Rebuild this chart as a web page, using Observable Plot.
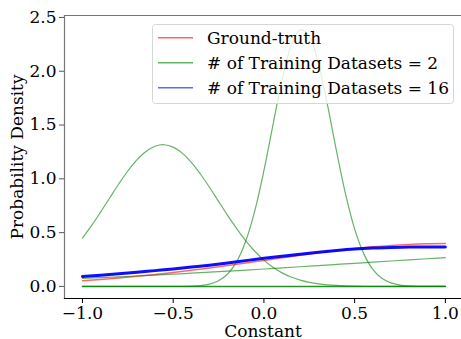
<!DOCTYPE html>
<html>
<head>
<meta charset="utf-8">
<script src="https://cdn.jsdelivr.net/npm/d3@7"></script>
<script src="https://cdn.jsdelivr.net/npm/@observablehq/plot@0.6"></script>
<style>
  html, body { margin: 0; padding: 0; background: #fff; }
  #wrap { position: relative; width: 461px; height: 339px; }
  #legend { position: absolute; left: 151px; top: 23px; }
</style>
</head>
<body>
<div id="wrap">
  <div id="chart"></div>
  <div id="legend"></div>
</div>
<script>
// ---- data ----
const xCoarse = [-1,-0.9,-0.8,-0.7,-0.6,-0.5,-0.4,-0.3,-0.2,-0.1,0,0.1,0.2,0.3,0.4,0.5,0.6,0.7,0.8,0.9,1];
const xFine = [-1,-0.95,-0.9,-0.85,-0.8,-0.75,-0.7,-0.65,-0.6,-0.55,-0.5,-0.45,-0.4,-0.35,-0.3,-0.25,-0.2,-0.15,-0.1,-0.05,0,0.05,0.1,0.15,0.2,0.25,0.3,0.35,0.4,0.45,0.5,0.55,0.6,0.65,0.7,0.75,0.8,0.85,0.9,0.95,1];

const groundTruth = [0.054,0.0656,0.079,0.094,0.1109,0.1295,0.1497,0.1714,0.1942,0.2179,0.242,0.2661,0.2897,0.3123,0.3332,0.3521,0.3683,0.3814,0.391,0.397,0.3989];
const sixteenSets = [0.093,0.105,0.118,0.132,0.147,0.162,0.18,0.198,0.218,0.24,0.261,0.281,0.3,0.318,0.335,0.349,0.358,0.363,0.366,0.367,0.367];
const twoSetsA = [0.45,0.565,0.691,0.822,0.952,1.073,1.176,1.255,1.303,1.317,1.295,1.239,1.154,1.045,0.922,0.791,0.66,0.537,0.424,0.327,0.245,0.178,0.126,0.0872,0.0586,0.0383,0.0244,0.0151,0.0091,0.0053,0.003,0.0017,0.0009,0.0005,0.0002,0.0001,0.0001,0,0,0,0];
const twoSetsB = [0,0,0,0,0,0,0,0,0,0,0.0003,0.001,0.003,0.0085,0.0222,0.053,0.116,0.231,0.422,0.705,1.076,1.502,1.917,2.236,2.385,2.326,2.074,1.69,1.26,0.859,0.535,0.305,0.159,0.0756,0.0329,0.0131,0.0048,0.0016,0.0005,0.0001,0];
const twoSetsC = [0.075,0.082,0.0894,0.0972,0.1054,0.114,0.123,0.1323,0.142,0.1518,0.162,0.1724,0.183,0.1937,0.2044,0.2152,0.2259,0.2365,0.247,0.2572,0.2671];
const twoSetsD = [0,0,0,0,0,0,0,0,0,0,0,0,0,0,0,0,0,0,0,0,0];

const xTicks = [-1, -0.5, 0, 0.5, 1];
const yTicks = [0, 0.5, 1, 1.5, 2, 2.5];
const legendLabels = ["Ground-truth", "# of Training Datasets = 2", "# of Training Datasets = 16"];
const legendColors = ["rgba(255,0,0,0.6)", "rgba(0,128,0,0.6)", "rgba(0,0,255,0.6)"];

const rows = (xs, ys) => xs.map((x, i) => ({x, y: ys[i]}));

const fmt = d3.format(".1f");
const chart = Plot.plot({
  width: 461, height: 339,
  marginLeft: 64, marginRight: 0, marginTop: 15, marginBottom: 41,
  style: {fontFamily: "'DejaVu Serif', serif", fontSize: "17px", background: "white", color: "#000", overflow: "visible"},
  x: {domain: [-1.099, 1.089]},
  y: {domain: [-0.112, 2.518]},
  marks: [
    Plot.frame({anchor: "top", stroke: "#777", strokeWidth: 1.2}),
    Plot.frame({anchor: "left", stroke: "#777", strokeWidth: 1.2}),
    Plot.frame({anchor: "bottom", stroke: "#000", strokeWidth: 1.2}),
    Plot.axisX({ticks: xTicks, tickFormat: fmt, tickSize: 5, tickPadding: 3, label: null, fontSize: 17}),
    Plot.axisY({ticks: yTicks, tickFormat: fmt, tickSize: 5, tickPadding: 3, label: null, fontSize: 17, stroke: "#555"}),
    Plot.text(["Constant"], {frameAnchor: "bottom", textAnchor: "middle", dy: 38, lineAnchor: "bottom", fontSize: 17}),
    Plot.text(["Probability Density"], {frameAnchor: "left", textAnchor: "middle", rotate: -90, dx: -42, lineAnchor: "bottom", fontSize: 17}),
    Plot.line(rows(xCoarse, groundTruth), {x: "x", y: "y", stroke: "#ff0000", strokeOpacity: 0.6, strokeWidth: 1.5, curve: "catmull-rom"}),
    Plot.line(rows(xCoarse, twoSetsD), {x: "x", y: "y", stroke: "#008000", strokeOpacity: 0.85, strokeWidth: 1.6}),
    Plot.line(rows(xFine, twoSetsA), {x: "x", y: "y", stroke: "#008000", strokeOpacity: 0.6, strokeWidth: 1.2, curve: "catmull-rom"}),
    Plot.line(rows(xFine, twoSetsB), {x: "x", y: "y", stroke: "#008000", strokeOpacity: 0.6, strokeWidth: 1.2, curve: "catmull-rom"}),
    Plot.line(rows(xCoarse, twoSetsC), {x: "x", y: "y", stroke: "#008000", strokeOpacity: 0.6, strokeWidth: 1.2, curve: "catmull-rom"}),
    Plot.line(rows(xCoarse, sixteenSets), {x: "x", y: "y", stroke: "#0000ff", strokeOpacity: 0.95, strokeWidth: 3, curve: "catmull-rom"})
  ]
});
document.getElementById("chart").appendChild(chart);

// legend drawn as a small SVG overlay
const lg = d3.select("#legend").append("svg")
  .attr("width", 305).attr("height", 83)
  .style("font-family", "'DejaVu Serif', serif").style("font-size", "17px");
lg.append("rect").attr("x", 1.5).attr("y", 1.5).attr("width", 301).attr("height", 79)
  .attr("rx", 3).attr("fill", "white").attr("fill-opacity", 0.8)
  .attr("stroke", "#d6d6d6").attr("stroke-width", 1);
legendLabels.forEach((label, i) => {
  const cy = 14.7 + i * 25;
  lg.append("line").attr("x1", 7).attr("x2", 42).attr("y1", cy).attr("y2", cy)
    .attr("stroke", legendColors[i]).attr("stroke-width", 1.5);
  lg.append("text").attr("x", 56).attr("y", cy).attr("dy", "0.35em").attr("fill", "#000").text(label);
});
</script>
</body>
</html>
